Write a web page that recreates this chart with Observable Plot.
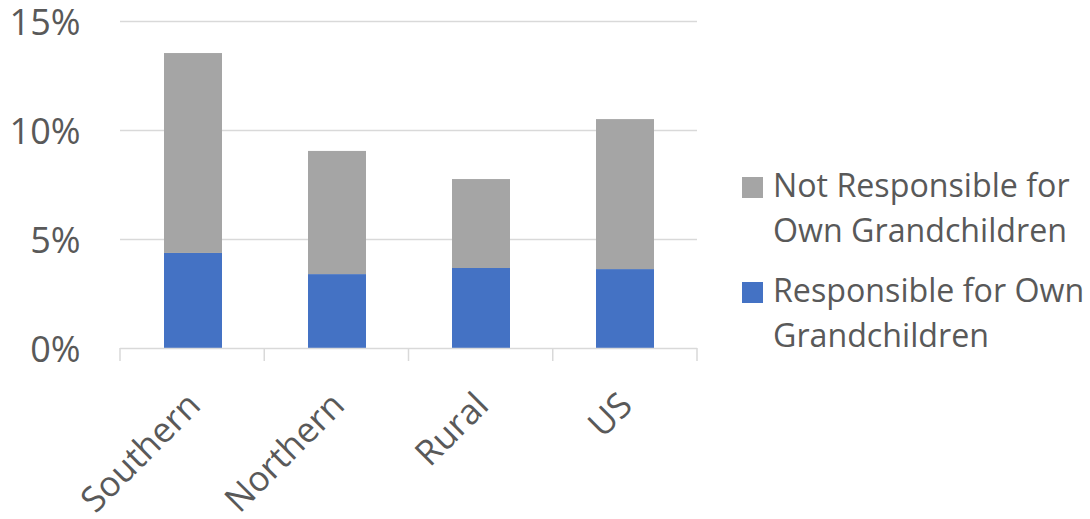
<!DOCTYPE html>
<html><head><meta charset="utf-8">
<script src="https://cdn.jsdelivr.net/npm/d3@7"></script>
<script src="https://cdn.jsdelivr.net/npm/@observablehq/plot@0.6"></script>
<style>
body{margin:0;background:#fff;}
#wrap{position:relative;width:1090px;height:519px;font-family:"Open Sans",sans-serif;color:#595959;}
#legend{position:absolute;left:742px;top:162px;font-size:32.2px;line-height:45px;}
.item{display:flex;align-items:flex-start;margin-bottom:15px;}
.sw{width:21px;height:21px;margin-top:15px;margin-right:10px;flex:none;}
</style></head>
<body><div id="wrap"><div id="legend"></div></div>
<script>
const regions = ["Southern", "Northern", "Rural", "US"];
const seriesNames = ["Responsible for Own Grandchildren", "Not Responsible for Own Grandchildren"];
const responsible = [0.0436, 0.0339, 0.0367, 0.0362];
const notResponsible = [0.0917, 0.0565, 0.0408, 0.0688];
const seriesColors = ["#4472C4", "#A5A5A5"];
const yTicks = [0, 0.05, 0.10, 0.15];
const legendLines = [["Not Responsible for", "Own Grandchildren"], ["Responsible for Own", "Grandchildren"]];
const legendColors = ["#A5A5A5", "#4472C4"];

const data = [];
regions.forEach((r, i) => {
  data.push({region: r, series: seriesNames[0], value: responsible[i]});
  data.push({region: r, series: seriesNames[1], value: notResponsible[i]});
});

const boundaryTicks = (index, scales, values, dim) => {
  const g = d3.create("svg:g");
  const n = regions.length;
  const step = (dim.width - dim.marginLeft - dim.marginRight) / n;
  for (let i = 0; i <= n; i++) {
    const x = dim.marginLeft + i * step;
    g.append("line").attr("x1", x).attr("x2", x)
      .attr("y1", scales.y(0)).attr("y2", scales.y(0) + 13)
      .attr("stroke", "#d9d9d9").attr("stroke-width", 1.5);
  }
  return g.node();
};

const chart = Plot.plot({
  width: 1090, height: 519,
  marginLeft: 120, marginRight: 393, marginTop: 21, marginBottom: 171,
  style: {fontFamily: "'Open Sans', sans-serif", color: "#595959", background: "#fff", overflow: "visible"},
  x: {domain: regions, paddingInner: 0.6, paddingOuter: 0.3, label: null},
  y: {domain: [0, 0.15], label: null},
  color: {domain: seriesNames, range: seriesColors},
  marks: [
    Plot.ruleY(yTicks.slice(1), {stroke: "#d9d9d9", strokeWidth: 1.5}),
    Plot.barY(data, {x: "region", y: "value", fill: "series", order: seriesNames}),
    Plot.ruleY([0], {stroke: "#d9d9d9", strokeWidth: 1.5}),
    boundaryTicks,
    Plot.axisY({ticks: yTicks, tickFormat: d3.format(".0%"), tickSize: 0, tickPadding: 40, dy: 2, fontSize: 36, fill: "#595959", label: null}),
    Plot.axisX({tickSize: 0, tickRotate: -45, tickPadding: 51, dx: 1, fontSize: 35, fill: "#595959", label: null})
  ]
});
document.getElementById("wrap").prepend(chart);

const legend = d3.select("#legend");
legendLines.forEach((lines, i) => {
  const it = legend.append("div").attr("class", "item");
  it.append("div").attr("class", "sw").style("background", legendColors[i]);
  it.append("div").html(lines.join("<br>"));
});
</script></body></html>
